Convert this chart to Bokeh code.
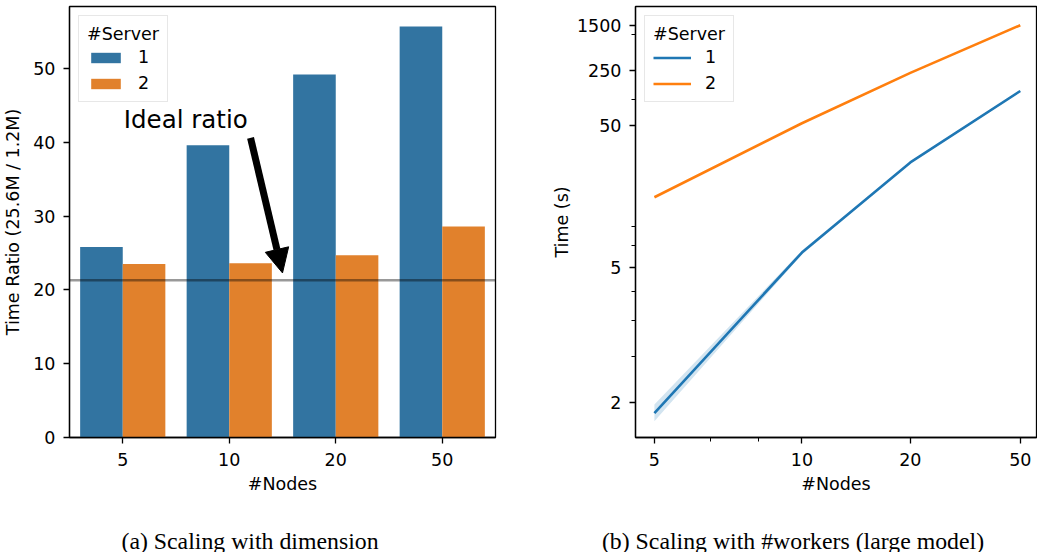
import numpy as np
from bokeh.plotting import figure
from bokeh.models import (ColumnDataSource, FixedTicker, CustomJSTickFormatter, Span, Label,
                          Arrow, NormalHead, Legend, LegendItem, Range1d)
from bokeh.transform import dodge
from bokeh.layouts import row, column
from bokeh.embed import file_html
from bokeh.resources import INLINE

# ---------------- data ----------------
node_labels = ["5", "10", "20", "50"]
ratio_server1 = [25.8, 39.6, 49.2, 55.7]
ratio_server2 = [23.5, 23.6, 24.7, 28.6]
ideal_ratio = 21.3
ratio_ticks = [0, 10, 20, 30, 40, 50]

nodes = [5, 10, 20, 50]
time_server1 = [1.91, 5.84, 22.2, 127]
time_server1_low = [1.85, 5.72, 21.9, 125]
time_server1_high = [1.98, 5.97, 22.5, 129]
time_server2 = [12.1, 52.5, 227, 1494]
time_ticks = [2, 5, 50, 250, 1500]
time_minor_ticks = [2.51, 3.16, 3.98, 6.31, 7.94, 100, 1000]
node_ticks = [5, 10, 20, 50]
node_minor_ticks = [6.31, 7.94]

captions = ["(a) Scaling with dimension", "(b) Scaling with #workers (large model)"]

FONT = "DejaVu Sans"
FS = "17.5px"
BLUE_BAR, ORANGE_BAR = "#3274a1", "#e1812c"
BLUE, ORANGE = "#1f77b4", "#ff7f0e"


def lnln(v):
    return list(np.log(np.log(np.asarray(v, dtype=float))))


def style(p):
    for ax in (p.xaxis[0], p.yaxis[0]):
        ax.major_label_text_font = FONT
        ax.major_label_text_font_size = FS
        ax.major_label_text_color = "black"
        ax.axis_label_text_font = FONT
        ax.axis_label_text_font_size = FS
        ax.axis_label_text_font_style = "normal"
        ax.axis_label_text_color = "black"
        ax.axis_line_color = "black"
        ax.axis_line_width = 1.3
        ax.major_tick_line_color = "black"
        ax.major_tick_line_width = 1.3
        ax.major_tick_out = 6
        ax.major_tick_in = 0
        ax.minor_tick_line_color = "black"
        ax.minor_tick_line_width = 1
        ax.minor_tick_out = 4
        ax.minor_tick_in = 0
    p.xaxis.major_label_standoff = 9
    p.yaxis.major_label_standoff = 8
    p.xaxis.axis_label_standoff = 5
    p.xgrid.visible = False
    p.ygrid.visible = False
    p.outline_line_color = "black"
    p.outline_line_width = 1.3
    p.outline_line_alpha = 1


def make_legend(items, glyph_w):
    return Legend(items=items, title="#Server", location="top_left", margin=9,
                  padding=8, spacing=6, title_standoff=3,
                  label_height=20, glyph_height=13, glyph_width=glyph_w, label_standoff=14,
                  title_text_font=FONT, title_text_font_size=FS, title_text_font_style="normal",
                  title_text_color="black",
                  label_text_font=FONT, label_text_font_size=FS, label_text_color="black",
                  border_line_color="#d0d0d0", border_line_width=1.3,
                  background_fill_alpha=0.9)


# ---------------- left: bar chart ----------------
src1 = ColumnDataSource(dict(idx=list(range(len(node_labels))), s1=ratio_server1, s2=ratio_server2))
p1 = figure(width=548, height=510, x_range=Range1d(-0.5, 3.5), y_range=Range1d(0, 58.4),
            output_backend="svg", toolbar_location=None,
            min_border_left=68, min_border_right=53, min_border_top=6, min_border_bottom=73)
r1 = p1.vbar(x=dodge("idx", -0.2, range=p1.x_range), top="s1", width=0.4, source=src1,
             fill_color=BLUE_BAR, line_color=None)
r2 = p1.vbar(x=dodge("idx", 0.2, range=p1.x_range), top="s2", width=0.4, source=src1,
             fill_color=ORANGE_BAR, line_color=None)
style(p1)
p1.xaxis.ticker = FixedTicker(ticks=list(range(len(node_labels))), minor_ticks=[])
p1.xaxis.major_label_overrides = {i: lab for i, lab in enumerate(node_labels)}
p1.yaxis.ticker = FixedTicker(ticks=ratio_ticks, minor_ticks=[])
p1.xaxis.axis_label = "#Nodes"
p1.yaxis.axis_label = "Time Ratio (25.6M / 1.2M)"
p1.yaxis.axis_label_standoff = 7

p1.add_layout(Span(location=ideal_ratio, dimension="width", line_color="black",
                   line_alpha=0.4, line_width=2.5))
p1.add_layout(Label(x=0.01, y=43.1, text="Ideal ratio", text_font=FONT, text_font_size="24.5px",
                    text_color="black", text_baseline="alphabetic"))
p1.add_layout(Arrow(end=NormalHead(size=24, fill_color="black", line_color="black", line_width=1),
                    x_start=1.20, y_start=40.6, x_end=1.50, y_end=22.3,
                    line_color="black", line_width=7))
p1.add_layout(make_legend([LegendItem(label="1", renderers=[r1]),
                           LegendItem(label="2", renderers=[r2])], 37))

# ---------------- right: line chart (log-log-scaled axes) ----------------
src2 = ColumnDataSource(dict(x=lnln(nodes), t1=lnln(time_server1), t2=lnln(time_server2),
                             lo=lnln(time_server1_low), hi=lnln(time_server1_high)))
p2 = figure(width=489, height=510, x_range=Range1d(0.4300, 1.4034), y_range=Range1d(-0.588, 2.106),
            output_backend="svg", toolbar_location=None,
            min_border_left=86, min_border_right=1, min_border_top=6, min_border_bottom=73)
p2.varea(x="x", y1="lo", y2="hi", source=src2, fill_color=BLUE, fill_alpha=0.2)
l1 = p2.line(x="x", y="t1", source=src2, line_color=BLUE, line_width=2.6)
l2 = p2.line(x="x", y="t2", source=src2, line_color=ORANGE, line_width=2.6)
style(p2)
p2.xaxis.ticker = FixedTicker(ticks=lnln(node_ticks), minor_ticks=lnln(node_minor_ticks))
p2.xaxis.formatter = CustomJSTickFormatter(code="return String(Math.round(Math.exp(Math.exp(tick))));")
p2.yaxis.ticker = FixedTicker(ticks=lnln(time_ticks), minor_ticks=lnln(time_minor_ticks))
p2.yaxis.formatter = CustomJSTickFormatter(code="return String(Math.round(Math.exp(Math.exp(tick))));")
p2.xaxis.axis_label = "#Nodes"
p2.yaxis.axis_label = "Time (s)"
p2.yaxis.axis_label_standoff = 2
p2.add_layout(make_legend([LegendItem(label="1", renderers=[l1]),
                           LegendItem(label="2", renderers=[l2])], 38))

# ---------------- captions ----------------
pc = figure(width=1037, height=42, x_range=Range1d(0, 1037), y_range=Range1d(0, 42),
            output_backend="svg", toolbar_location=None, x_axis_location=None, y_axis_location=None,
            min_border=0)
pc.xgrid.visible = False
pc.ygrid.visible = False
pc.outline_line_color = None
for cx, txt in zip([249.5, 792.5], captions):
    pc.add_layout(Label(x=cx, y=12, text=txt, text_align="center", text_baseline="alphabetic",
                        text_font="Liberation Serif", text_font_size="23.8px", text_color="black"))

layout = column(row(p1, p2), pc)
open("out.html", "w").write(file_html(layout, INLINE))
